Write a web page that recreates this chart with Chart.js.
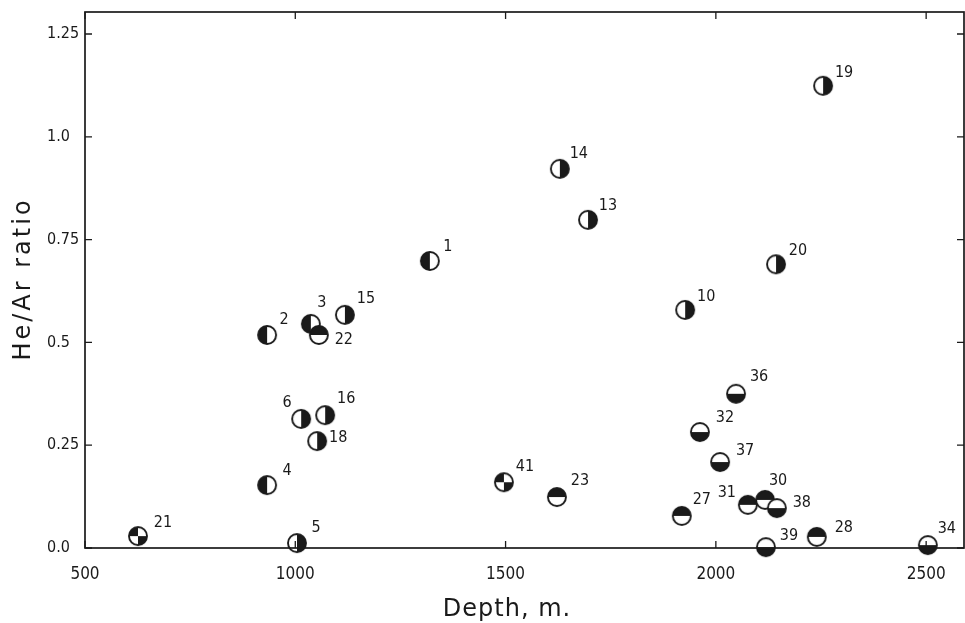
<!DOCTYPE html>
<html><head><meta charset="utf-8">
<script src="https://cdn.jsdelivr.net/npm/chart.js@4/dist/chart.umd.min.js"></script>
<style>html,body{margin:0;padding:0;background:#fff}#wrap{width:965px;height:623px}</style>
</head><body><div id="wrap"><canvas id="c" width="965" height="623"></canvas></div>
<script>
// ---- data ----
const sampleIds = ['21','4','5','2','3','22','15','6','16','18','1','14','13','41','23','10','20','19','36','32','37','27','31','30','38','39','28','34'];
const depths    = [626,933,1004,933,1037,1056,1118,1014,1071,1052,1320,1629,1696,1496,1622,1927,2143,2255,2048,1962,2010,1919,2076,2117,2145,2119,2240,2504];
const ratios    = [0.029,0.153,0.012,0.518,0.545,0.518,0.567,0.314,0.323,0.26,0.698,0.922,0.798,0.16,0.124,0.579,0.69,1.124,0.375,0.282,0.209,0.078,0.105,0.117,0.097,0.002,0.027,0.007];
const symbols   = ['Q','L','R','L','L','T','R','R','R','R','L','R','R','Q','T','R','R','R','B','B','B','T','T','T','B','B','T','B'];
const xTicks = [500,1000,1500,2000,2500];
const yTicks = [0,0.25,0.5,0.75,1.0,1.25];
const yTickLabels = ['0.0','0.25','0.5','0.75','1.0','1.25'];
const xTitle = 'Depth, m.';
const yTitle = 'He/Ar ratio';

// ---- label placement (style) ----
const labelOffsets = {
 '21':[25,-13],'4':[20,-14],'5':[19,-15],'2':[17,-15],'3':[11,-21],'22':[25,5],'15':[21,-16],
 '6':[-14,-16],'16':[21,-16],'18':[21,-3],'1':[18,-14],'14':[19,-15],'13':[20,-14],'41':[21,-15],
 '23':[23,-16],'10':[21,-13],'20':[22,-13],'19':[21,-13],'36':[23,-17],'32':[25,-14],'37':[25,-11],
 '27':[20,-16],'31':[-21,-12],'30':[13,-19],'38':[25,-5],'39':[23,-11],'28':[27,-9],'34':[19,-16]
};

const INK = '#1a1a1a';
function makeMarker(kind){
  const c = document.createElement('canvas');
  c.width = 24; c.height = 24;
  const g = c.getContext('2d');
  const cx = 12, cy = 12, r = 9;
  g.fillStyle = '#fff';
  g.beginPath(); g.arc(cx,cy,r,0,Math.PI*2); g.fill();
  g.fillStyle = INK;
  const wedge = (a0,a1)=>{ g.beginPath(); g.moveTo(cx,cy); g.arc(cx,cy,r,a0,a1); g.closePath(); g.fill(); };
  const P = Math.PI;
  if (kind==='L') wedge(P/2, 3*P/2);
  else if (kind==='R') wedge(-P/2, P/2);
  else if (kind==='T') wedge(P, 2*P);
  else if (kind==='B') wedge(0, P);
  else if (kind==='Q') { wedge(P, 3*P/2); wedge(0, P/2); }
  g.strokeStyle = INK; g.lineWidth = 1.9;
  g.beginPath(); g.arc(cx,cy,r,0,Math.PI*2); g.stroke();
  return c;
}
const markerCache = {};
['L','R','T','B','Q'].forEach(k=>markerCache[k]=makeMarker(k));

const FONT = '"DejaVu Sans Condensed","DejaVu Sans",sans-serif';

const framePlugin = {
  id:'frame',
  afterDraw(chart){
    const {ctx, chartArea:a, scales:{x,y}} = chart;
    ctx.save();
    ctx.strokeStyle = INK; ctx.lineWidth = 1.7;
    ctx.strokeRect(a.left, a.top, a.right-a.left, a.bottom-a.top);
    ctx.lineWidth = 1.3;
    const tl = 7;
    xTicks.forEach(v=>{
      const px = x.getPixelForValue(v);
      ctx.beginPath(); ctx.moveTo(px,a.bottom); ctx.lineTo(px,a.bottom-tl);
      ctx.moveTo(px,a.top); ctx.lineTo(px,a.top+tl); ctx.stroke();
    });
    yTicks.forEach(v=>{
      const py = y.getPixelForValue(v);
      ctx.beginPath(); ctx.moveTo(a.left,py); ctx.lineTo(a.left+tl,py);
      ctx.moveTo(a.right,py); ctx.lineTo(a.right-tl,py); ctx.stroke();
    });
    // point labels
    ctx.fillStyle = INK;
    ctx.font = '16px ' + FONT;
    ctx.textAlign = 'center'; ctx.textBaseline = 'middle';
    const meta = chart.getDatasetMeta(0);
    meta.data.forEach((pt,i)=>{
      const id = sampleIds[i];
      const off = labelOffsets[id] || [20,-14];
      ctx.fillText(id, pt.x + off[0], pt.y + off[1]);
    });
    // axis titles
    ctx.font = '24px "DejaVu Sans",sans-serif';
    try { ctx.letterSpacing = '1px'; } catch(e){}
    ctx.fillText(xTitle, 507, 610);
    ctx.save();
    ctx.translate(24, 279);
    ctx.rotate(-Math.PI/2);
    try { ctx.letterSpacing = '3px'; } catch(e){}
    ctx.fillText(yTitle, 0, 0);
    ctx.restore();
    ctx.restore();
  }
};

new Chart(document.getElementById('c'), {
  type:'scatter',
  data:{
    datasets:[{
      data: depths.map((d,i)=>({x:d, y:ratios[i]})),
      pointStyle: ctx => markerCache[symbols[ctx.dataIndex]],
      pointRadius: 9,
      pointHoverRadius: 9,
      clip: false
    }]
  },
  options:{
    responsive:false,
    animation:false,
    devicePixelRatio:1,
    layout:{autoPadding:false, padding:{left:47, top:12, right:1, bottom:0}},
    plugins:{legend:{display:false}, tooltip:{enabled:false}},
    scales:{
      x:{
        type:'linear', min:500, max:2590,
        afterBuildTicks: s => { s.ticks = xTicks.map(v=>({value:v})); },
        afterFit: s => { s.height = 75; s.paddingLeft = 0; s.paddingRight = 0; },
        grid:{display:false, drawTicks:false},
        border:{display:false},
        ticks:{color:INK, font:{family:FONT, size:17}, padding:16, maxRotation:0, autoSkip:false,
          callback: v => String(v)}
      },
      y:{
        type:'linear', min:0, max:1.3035,
        afterBuildTicks: s => { s.ticks = yTicks.map(v=>({value:v})); },
        afterFit: s => { s.width = 38; s.paddingTop = 0; s.paddingBottom = 0; },
        grid:{display:false, drawTicks:false},
        border:{display:false},
        ticks:{color:INK, font:{family:FONT, size:16}, crossAlign:'far', padding:0, autoSkip:false,
          callback:(v)=> yTickLabels[yTicks.indexOf(v)] ?? ''}
      }
    }
  },
  plugins:[framePlugin]
});
</script></body></html>
